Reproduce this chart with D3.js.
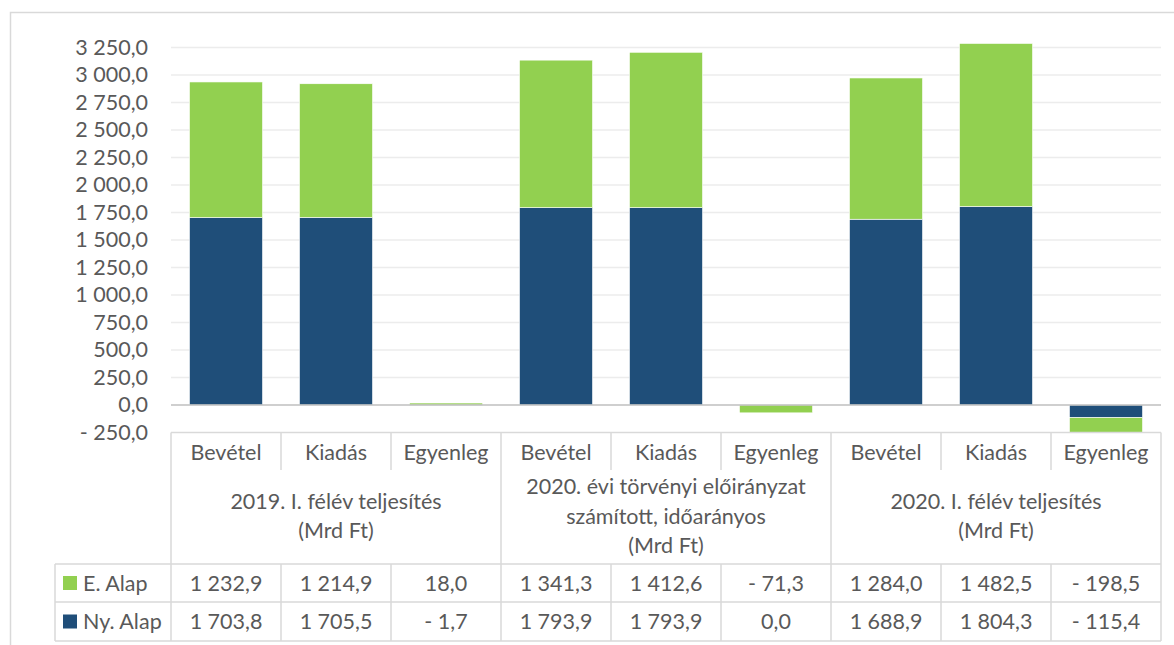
<!DOCTYPE html>
<meta charset="utf-8">
<script src="https://d3js.org/d3.v7.min.js"></script>
<style>
  body { margin: 0; background: #fff; }
  text { font-family: Lato, "Noto Sans", sans-serif; fill: #595959; }
</style>
<div id="chart"></div>
<script>

// categories and groups
var items = ["Bevétel", "Kiadás", "Egyenleg", "Bevétel", "Kiadás", "Egyenleg", "Bevétel", "Kiadás", "Egyenleg"];
var groups = [
  ["2019. I. félév teljesítés", "(Mrd Ft)"],
  ["2020. évi törvényi előirányzat", "számított, időarányos", "(Mrd Ft)"],
  ["2020. I. félév teljesítés", "(Mrd Ft)"]
];

// series values (Mrd Ft)
var eAlap  = [1232.9, 1214.9, 18.0, 1341.3, 1412.6, -71.3, 1284.0, 1482.5, -198.5];
var nyAlap = [1703.8, 1705.5, -1.7, 1793.9, 1793.9, 0.0, 1688.9, 1804.3, -115.4];

var seriesNames = ["Ny. Alap", "E. Alap"];
var colors = {"E. Alap": "#92D050", "Ny. Alap": "#1F4E79"};

// y ticks
var yTicks = [-250, 0, 250, 500, 750, 1000, 1250, 1500, 1750, 2000, 2250, 2500, 2750, 3000, 3250];

var W = 1174, H = 645;
var plotLeft = 171, plotRight = 1161, plotTop = 47.5, plotBottom = 432.5;
var fontSize = "21.5px";

var loc = d3.formatLocale({decimal: ",", thousands: "\u00a0", grouping: [3]});
var f1 = loc.format(",.1f");
function fmt(v) {
  if (v < 0) return "- " + f1(-v);
  return f1(v);
}

var svg = d3.select("#chart").append("svg")
  .attr("width", W).attr("height", H);

// outer frame
svg.append("rect")
  .attr("x", 10.5).attr("y", 12.5).attr("width", 1300).attr("height", 800)
  .attr("fill", "none").attr("stroke", "#d9d9d9").attr("stroke-width", 1.5);

var x = d3.scaleBand()
  .domain(d3.range(items.length))
  .range([plotLeft, plotRight])
  .paddingInner(0.336)
  .paddingOuter(0.168);

var y = d3.scaleLinear()
  .domain([-250, 3250])
  .range([plotBottom, plotTop]);

// gridlines
svg.append("g").selectAll("line")
  .data(yTicks.filter(function(d) { return d > 0; }))
  .enter().append("line")
    .attr("x1", plotLeft).attr("x2", plotRight)
    .attr("y1", function(d) { return y(d); })
    .attr("y2", function(d) { return y(d); })
    .attr("stroke", "#ececec").attr("stroke-width", 1.5);

// y axis labels
var yAxis = svg.append("g")
  .attr("transform", "translate(" + (plotLeft - 8) + ",0)")
  .call(d3.axisLeft(y).tickValues(yTicks).tickFormat(fmt).tickSize(0).tickPadding(15));
yAxis.select(".domain").remove();
yAxis.selectAll("text").style("font-size", fontSize).attr("fill", "#595959")
  .style("font-family", "Lato, 'Noto Sans', sans-serif");

// stacked bars
var rows = items.map(function(d, i) { return {i: i, "E. Alap": eAlap[i], "Ny. Alap": nyAlap[i]}; });
var stack = d3.stack().keys(seriesNames).offset(d3.stackOffsetDiverging);
var stacked = stack(rows);

svg.append("clipPath").attr("id", "plotclip")
  .append("rect").attr("x", plotLeft).attr("y", plotTop - 5)
  .attr("width", plotRight - plotLeft).attr("height", plotBottom - plotTop + 5);

var barG = svg.append("g").attr("clip-path", "url(#plotclip)");
barG.selectAll("g")
  .data(stacked)
  .enter().append("g")
    .attr("fill", function(d) { return colors[d.key]; })
  .selectAll("rect")
  .data(function(d) { return d; })
  .enter().append("rect")
    .attr("x", function(d) { return x(d.data.i); })
    .attr("width", x.bandwidth())
    .attr("y", function(d) { return y(Math.max(d[0], d[1])); })
    .attr("height", function(d) { return Math.abs(y(d[0]) - y(d[1])); })
    .attr("stroke", "#fff").attr("stroke-width", 0.6);

// zero axis line
svg.append("line")
  .attr("x1", plotLeft).attr("x2", plotRight)
  .attr("y1", y(0)).attr("y2", y(0))
  .attr("stroke", "#bfbfbf").attr("stroke-width", 1.5);

// data table
var tTop = plotBottom, hdrBot = 470, grpBot = 564, row1Bot = 602, row2Bot = 641;
var legLeft = 55;
var step = x.step();
var tbl = svg.append("g").attr("stroke", "#d9d9d9").attr("stroke-width", 1.5);

function hline(x1, x2, yy) { tbl.append("line").attr("x1", x1).attr("x2", x2).attr("y1", yy).attr("y2", yy); }
function vline(xx, y1, y2) { tbl.append("line").attr("x1", xx).attr("x2", xx).attr("y1", y1).attr("y2", y2); }

hline(plotLeft, plotRight, tTop);
hline(legLeft, plotRight, grpBot);
hline(legLeft, plotRight, row1Bot);
hline(legLeft, plotRight, row2Bot);
vline(legLeft, grpBot, row2Bot);

d3.range(items.length + 1).forEach(function(k) {
  var xx = plotLeft + k * step;
  if (k % 3 === 0) vline(xx, tTop, row2Bot);
  else {
    vline(xx, tTop, hdrBot);
    vline(xx, grpBot, row2Bot);
  }
});

var txt = svg.append("g").style("font-size", fontSize).attr("text-anchor", "middle");

// category labels
txt.selectAll(".cat").data(items).enter().append("text")
  .attr("x", function(d, i) { return x(i) + x.bandwidth() / 2; })
  .attr("y", 452).attr("dy", "0.35em")
  .text(function(d) { return d; });

// group labels
groups.forEach(function(lines, g) {
  var cx = plotLeft + (g * 3 + 1.5) * step;
  var lh = 29.5;
  var cy = (hdrBot + grpBot) / 2 - 1;
  lines.forEach(function(l, j) {
    txt.append("text")
      .attr("x", cx)
      .attr("y", cy + (j - (lines.length - 1) / 2) * lh)
      .attr("dy", "0.35em")
      .text(l);
  });
});

// value rows
var tableRows = [
  {name: "E. Alap", values: eAlap, y: (grpBot + row1Bot) / 2},
  {name: "Ny. Alap", values: nyAlap, y: (row1Bot + row2Bot) / 2}
];
tableRows.forEach(function(r) {
  r.values.forEach(function(v, i) {
    txt.append("text")
      .attr("x", x(i) + x.bandwidth() / 2)
      .attr("y", r.y).attr("dy", "0.35em")
      .text(fmt(v));
  });
  svg.append("rect")
    .attr("x", 63).attr("y", r.y - 7).attr("width", 14).attr("height", 14)
    .attr("fill", colors[r.name]);
  svg.append("text")
    .attr("x", 83).attr("y", r.y).attr("dy", "0.35em")
    .style("font-size", fontSize)
    .text(r.name);
});

</script>
